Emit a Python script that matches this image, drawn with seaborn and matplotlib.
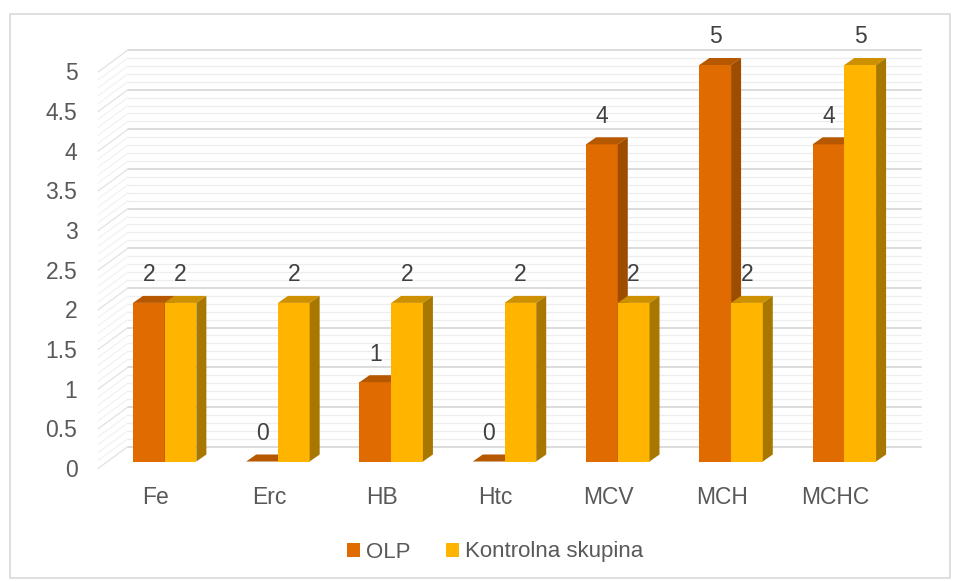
import numpy as np
import pandas as pd
import matplotlib
matplotlib.use('Agg')
import matplotlib.pyplot as plt
from matplotlib.patches import Polygon, Rectangle
from matplotlib.transforms import ScaledTranslation
import seaborn as sns

# data
params = ['Fe', 'Erc', 'HB', 'Htc', 'MCV', 'MCH', 'MCHC']
olp = [2, 0, 1, 0, 4, 5, 4]
kontrolna = [2, 2, 2, 2, 2, 2, 5]
groups = ['OLP', 'Kontrolna skupina']
ytick_vals = [0, 0.5, 1, 1.5, 2, 2.5, 3, 3.5, 4, 4.5, 5]
ytick_labels = ['0', '0.5', '1', '1.5', '2', '2.5', '3', '3.5', '4', '4.5', '5']

df = pd.DataFrame({
    'param': params * 2,
    'value': olp + kontrolna,
    'group': [groups[0]] * len(params) + [groups[1]] * len(params),
})

front_cols = ['#E06B00', '#FFB400']
top_cols = ['#B65800', '#CC9000']
side_cols = ['#9E4C00', '#A87700']

sns.set_style('white')
plt.rcParams['font.family'] = ['Liberation Sans', 'DejaVu Sans']

W, H = 960, 581
fig = plt.figure(figsize=(W / 100, H / 100), dpi=100)
# front plane of the bars, in pixels
x_left, x_right = 108, 901
y_bot, y_top = 461.5, 65
ax = fig.add_axes([x_left / W, 1 - y_bot / H, (x_right - x_left) / W, (y_bot - y_top) / H])

sns.barplot(data=df, x='param', y='value', hue='group', palette=front_cols,
            width=0.56, gap=0, ax=ax, zorder=2, linewidth=0, saturation=1)
ax.set_xlim(-0.5, len(params) - 0.5)
ax.set_ylim(0, 5)

# pixel -> data scale
sx = ax.bbox.width / (len(params))
sy = ax.bbox.height / 5

# back wall and left wall grid
bdx, bdy = 20 / sx, 15 / sy
fdx, fdy = -10 / sx, -7 / sy
x0, x1 = ax.get_xlim()
for k in range(51):
    v = k / 10
    major = k % 5 == 0
    c = '#d9d9d9' if major else '#eeeeee'
    lw = 1.3 if major else 0.9
    ax.plot([x0 + bdx, x1 + bdx], [v + bdy, v + bdy], color=c, lw=lw, clip_on=False,
            zorder=0.6 if major else 0.5)
    cw = '#e2e2e2' if major else '#f2f2f2'
    ax.plot([x0 + fdx, x0 + bdx], [v + fdy, v + bdy], color=cw, lw=0.9, clip_on=False,
            zorder=0.6 if major else 0.5)

# 3D tops and sides for bars
ddx, ddy = 10 / sx, 7 / sy
for gi, cont in enumerate(ax.containers):
    for bar in cont:
        bx, bw, bh = bar.get_x(), bar.get_width(), bar.get_height()
        bx1 = bx + bw
        top = Polygon([(bx, bh), (bx1, bh), (bx1 + ddx, bh + ddy), (bx + ddx, bh + ddy)],
                      closed=True, facecolor=top_cols[gi], edgecolor='none',
                      zorder=2 + gi, clip_on=False)
        side = Polygon([(bx1, 0), (bx1, bh), (bx1 + ddx, bh + ddy), (bx1 + ddx, ddy)],
                       closed=True, facecolor=side_cols[gi], edgecolor='none',
                       zorder=2 + gi, clip_on=False)
        ax.add_patch(top)
        ax.add_patch(side)
        bar.set_zorder(2 + gi)
        ax.annotate(f'{bh:g}', (bx + bw / 2, bh), xytext=(0, 12), textcoords='offset points',
                    ha='center', va='bottom', fontsize=16.5, color='#404040', zorder=5,
                    annotation_clip=False)

for s in ax.spines.values():
    s.set_visible(False)
ax.set_xlabel('')
ax.set_ylabel('')
ax.set_yticks(ytick_vals)
ax.set_yticklabels(ytick_labels)
ax.tick_params(axis='both', length=0, labelsize=16.5, labelcolor='#595959')
ax.tick_params(axis='y', pad=22)
ax.tick_params(axis='x', pad=18)
for lab in ax.get_yticklabels():
    lab.set_transform(lab.get_transform() + ScaledTranslation(0, -0.065, fig.dpi_scale_trans))
for lab in ax.get_xticklabels():
    lab.set_transform(lab.get_transform() + ScaledTranslation(-0.09, 0, fig.dpi_scale_trans))
ax.set_facecolor('none')

handles, labels = ax.get_legend_handles_labels()
ax.get_legend().remove()
fig.legend(handles, labels, loc='center', bbox_to_anchor=(495 / W, 1 - 552 / H), ncol=2,
           frameon=False, handlelength=0.6, handleheight=0.6, handletextpad=0.25,
           columnspacing=1.6, fontsize=16, labelcolor='#595959')

# chart border
fig.patches.append(Rectangle((10 / W, 3 / H), 940 / W, 564 / H, transform=fig.transFigure,
                             fill=False, edgecolor='#d9d9d9', lw=1.2))

fig.savefig('out.png', dpi=100)
